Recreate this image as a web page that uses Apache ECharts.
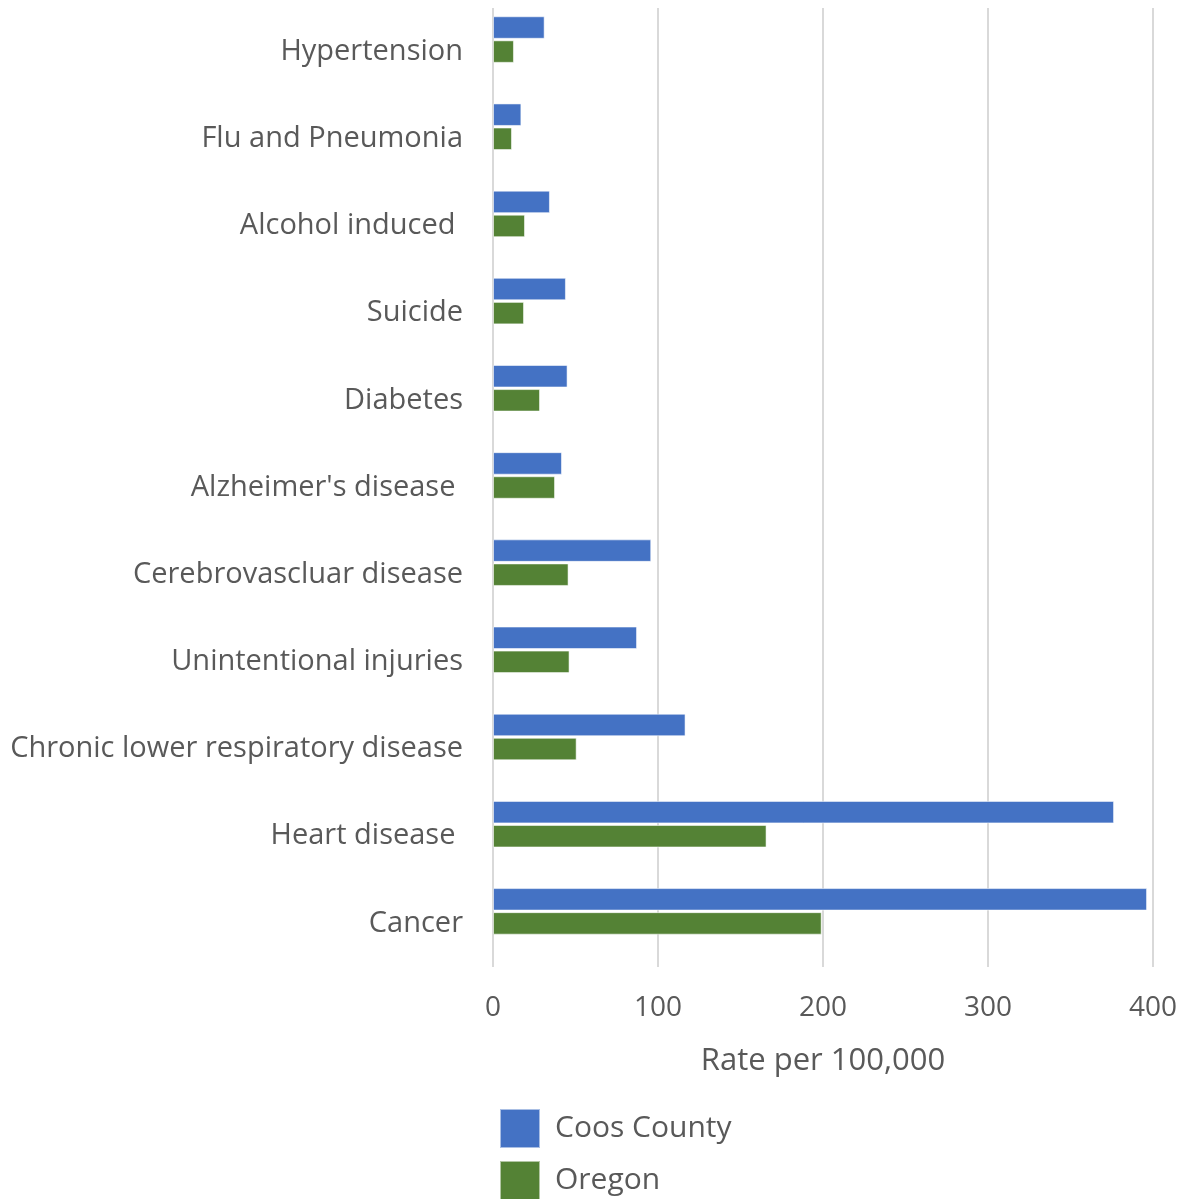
<!DOCTYPE html>
<html>
<head>
<meta charset="utf-8">
<script src="https://cdn.jsdelivr.net/npm/echarts@6/dist/echarts.min.js"></script>
<style>html,body{margin:0;padding:0;background:#fff}#c{width:1192px;height:1199px}</style>
</head>
<body>
<div id="c"></div>
<script>
var categories = ['Cancer', 'Heart disease ', 'Chronic lower respiratory disease', 'Unintentional injuries', 'Cerebrovascluar disease', "Alzheimer's disease ", 'Diabetes', 'Suicide', 'Alcohol induced ', 'Flu and Pneumonia', 'Hypertension'];
var coosCounty = [396.4, 376.4, 116.7, 87.3, 95.9, 41.8, 45.2, 44.2, 34.5, 17.2, 31.3];
var oregon = [199.2, 165.8, 50.7, 46.4, 45.8, 37.6, 28.5, 18.8, 19.4, 11.5, 12.7];
var xTicks = [0, 100, 200, 300, 400];
var seriesNames = ['Coos County', 'Oregon'];

var chart = echarts.init(document.getElementById('c'), null, {renderer: 'canvas'});
var font = '"Open Sans", "Noto Sans", sans-serif';
var barCommon = {type: 'bar', barWidth: 22.5, barGap: '7%'};
function legendFor(name, top) {
  return {
    data: [name], orient: 'vertical', left: 499, top: top,
    itemWidth: 40, itemHeight: 39, icon: 'rect', padding: 0,
    textStyle: {fontSize: 30, color: '#595959', fontFamily: font, padding: [0, 0, 0, 10]}
  };
}
chart.setOption({
  animation: false,
  textStyle: {fontFamily: font},
  grid: {left: 493, right: 39, top: 8, bottom: 232, containLabel: false},
  legend: [legendFor(seriesNames[0], 1108), legendFor(seriesNames[1], 1160)],
  xAxis: {
    type: 'value',
    min: xTicks[0], max: xTicks[xTicks.length - 1], interval: 100,
    axisLine: {show: false}, axisTick: {show: false},
    splitLine: {show: true, lineStyle: {color: '#d9d9d9', width: 2}},
    axisLabel: {fontSize: 28, color: '#595959', margin: 27, fontFamily: font},
    name: 'Rate per 100,000', nameLocation: 'middle', nameGap: 79,
    nameTextStyle: {fontSize: 31, color: '#595959', fontFamily: font}
  },
  yAxis: {
    type: 'category', data: categories,
    axisLine: {show: false}, axisTick: {show: false},
    axisLabel: {fontSize: 29, color: '#595959', margin: 30, fontFamily: font, padding: [4, 0, 0, 0]}
  },
  series: [
    Object.assign({}, barCommon, {name: seriesNames[0], data: coosCounty,
      itemStyle: {color: '#4472C4', borderColor: 'rgba(255,255,255,0.55)', borderWidth: 1}}),
    Object.assign({}, barCommon, {name: seriesNames[1], data: oregon,
      itemStyle: {color: '#548235', borderColor: 'rgba(255,255,255,0.55)', borderWidth: 1}}),
    Object.assign({}, barCommon, {name: '_pad', data: categories.map(function(){return '-';}),
      itemStyle: {color: 'transparent'}, silent: true})
  ]
});
</script>
</body>
</html>
